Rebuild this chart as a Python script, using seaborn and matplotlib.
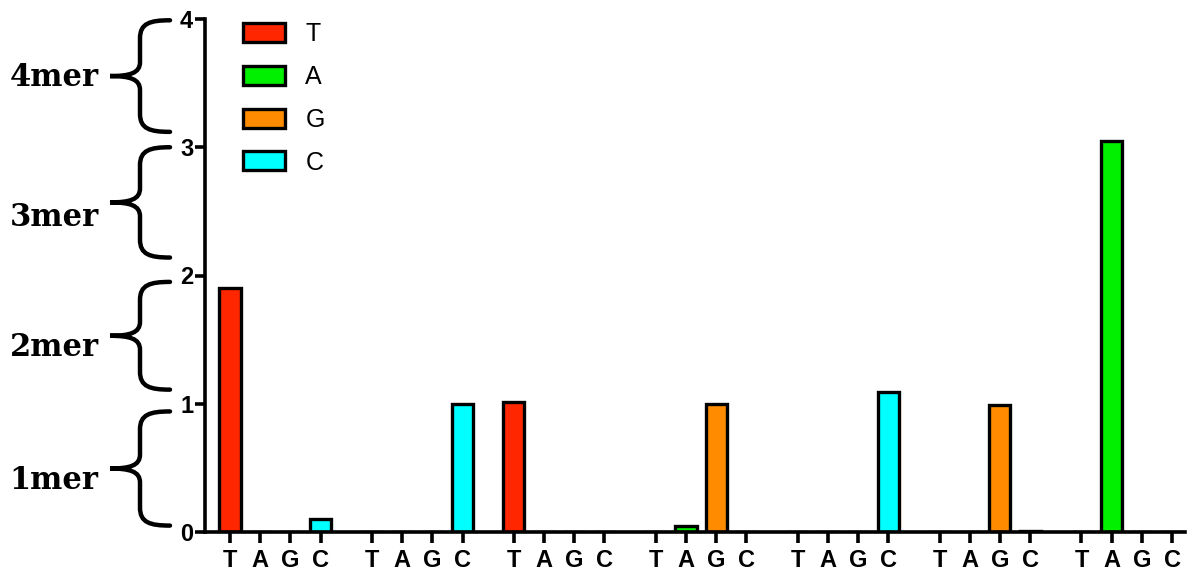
import matplotlib
matplotlib.use("Agg")
import matplotlib.pyplot as plt
import seaborn as sns
import pandas as pd
import numpy as np
from matplotlib.path import Path
from matplotlib.patches import PathPatch, Patch

# ---- data ----
nucleotides = ["T", "A", "G", "C"]
group1 = [1.90, 0.00, 0.00, 0.10]
group2 = [0.00, 0.00, 0.00, 1.00]
group3 = [1.01, 0.00, 0.00, 0.00]
group4 = [0.00, 0.05, 1.00, 0.00]
group5 = [0.00, 0.00, 0.00, 1.09]
group6 = [0.00, 0.00, 0.99, 0.01]
group7 = [0.00, 3.05, 0.00, 0.00]
groups = [group1, group2, group3, group4, group5, group6, group7]
yticks = [0, 1, 2, 3, 4]
brace_labels = ["1mer", "2mer", "3mer", "4mer"]
colors = {"T": "#FF2600", "A": "#00F000", "G": "#FF8C00", "C": "#00FFFF"}

group_step = 4.7
rows = []
for gi, vals in enumerate(groups):
    for ni, (nuc, v) in enumerate(zip(nucleotides, vals)):
        rows.append({"pos": gi * group_step + ni, "value": v, "nuc": nuc})
df = pd.DataFrame(rows)

W, H = 1188, 575
sns.set_style("ticks")
plt.rcParams["font.family"] = ["Liberation Sans", "DejaVu Sans"]
plt.rcParams["text.color"] = "black"
plt.rcParams["xtick.color"] = "black"
plt.rcParams["ytick.color"] = "black"
plt.rcParams["axes.labelcolor"] = "black"
plt.rcParams["axes.edgecolor"] = "black"
fig = plt.figure(figsize=(W / 100, H / 100), dpi=100)

x0p, x1p, y0p, y1p = 205, 1185, 532, 19
ax = fig.add_axes([x0p / W, (H - y0p) / H, (x1p - x0p) / W, (y0p - y1p) / H])

sns.barplot(data=df, x="pos", y="value", hue="nuc", hue_order=nucleotides,
            palette=colors, native_scale=True, dodge=False, width=0.7,
            saturation=1, errorbar=None, edgecolor="black", linewidth=2.4,
            ax=ax, legend=True)

ax.set_xlim(-0.83, 6 * group_step + 3 + 0.43)
ax.set_ylim(0, 4)
ax.set_yticks(yticks)
ax.set_yticklabels([str(t) for t in yticks], fontweight="bold", fontsize=17)
ax.set_xticks(df["pos"].values)
ax.set_xticklabels(df["nuc"].values, fontweight="bold", fontsize=17)
ax.set_xlabel("")
ax.set_ylabel("")
for s in ["top", "right"]:
    ax.spines[s].set_visible(False)
for s in ["left", "bottom"]:
    ax.spines[s].set_linewidth(2.6)
    ax.spines[s].set_color("black")
ax.tick_params(axis="y", length=7, width=2.6, pad=1.5, direction="out")
ax.tick_params(axis="x", length=8, width=2.6, pad=4, direction="out")
ax.grid(False)

handles = [Patch(facecolor=colors[n], edgecolor="black", linewidth=2.4) for n in nucleotides]
leg = ax.legend(handles, nucleotides, loc="upper left", bbox_to_anchor=(0.029, 1.013),
                frameon=False, fontsize=18, handlelength=1.68, handleheight=0.8,
                handletextpad=0.8, labelspacing=0.75, borderaxespad=0)

# ---- braces (figure pixel coords, y from top) ----
def fp(x, y):
    return (x / W, 1 - y / H)

def brace(yt, yb, ym):
    xt, xv, xm = 170, 140, 110
    verts = [
        (xt, yt), (150, yt), (xv, yt + 3), (xv, yt + 18),
        (xv, ym - 14),
        (xv, ym - 3), (130, ym), (xm, ym),
        (130, ym), (xv, ym + 3), (xv, ym + 14),
        (xv, yb - 18),
        (xv, yb - 3), (150, yb), (xt, yb),
    ]
    codes = [Path.MOVETO, Path.CURVE4, Path.CURVE4, Path.CURVE4,
             Path.LINETO,
             Path.CURVE4, Path.CURVE4, Path.CURVE4,
             Path.CURVE4, Path.CURVE4, Path.CURVE4,
             Path.LINETO,
             Path.CURVE4, Path.CURVE4, Path.CURVE4]
    p = Path([fp(*v) for v in verts], codes)
    fig.add_artist(PathPatch(p, facecolor="none", edgecolor="black", linewidth=3.2,
                             transform=fig.transFigure, capstyle="round"))

def ypix(v):
    return y0p - (y0p - y1p) * v / 4.0

brace_specs = [  # (top value, bottom value, label y offset)
    (0.94, 0.05, 12),
    (1.95, 1.11, 12),
    (3.00, 2.14, 15),
    (3.99, 3.12, 1),
]
for lbl, (vt, vb, dy) in zip(brace_labels, brace_specs):
    yt, yb = ypix(vt), ypix(vb)
    ym = (yt + yb) / 2
    brace(yt, yb, ym)
    fig.text(54 / W, 1 - (ym + dy) / H, lbl, ha="center", va="center",
             fontsize=22, fontweight="bold", family=["DejaVu Serif"], color="black")

fig.savefig("out.png", dpi=100)
